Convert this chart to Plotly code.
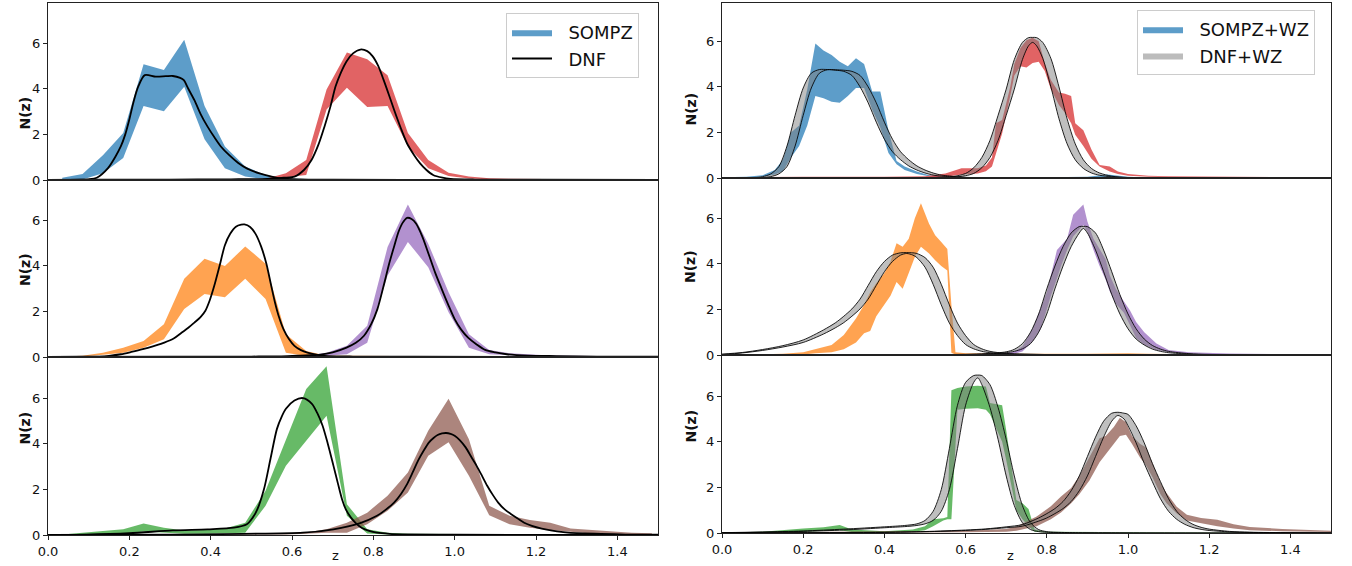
import plotly.graph_objects as go

# ---------------- DATA ----------------
# Left column: SOMPZ bands on coarse bins, DNF single curves
z_sompz = [0.035, 0.085, 0.135, 0.185, 0.235, 0.285, 0.335, 0.385, 0.435, 0.485,
           0.535, 0.585, 0.635, 0.685, 0.735, 0.785, 0.835, 0.885, 0.935, 0.985,
           1.035, 1.085, 1.135, 1.185, 1.235, 1.285, 1.335, 1.385, 1.435, 1.485]

sompz1_hi = [0.10, 0.26, 1.09, 2.06, 5.07, 4.82, 6.15, 3.24, 1.47, 0.59, 0.22, 0.06, 0.04, 0.03, 0.03,
             0.03, 0.03, 0.03, 0.03, 0.02, 0.01, 0, 0, 0, 0, 0, 0, 0, 0, 0]
sompz1_lo = [0.00, 0.02, 0.30, 0.96, 3.24, 3.01, 4.09, 1.79, 0.51, 0.15, 0.03, 0.01, 0.01, 0.01, 0.01,
             0.01, 0.01, 0.01, 0.01, 0, 0, 0, 0, 0, 0, 0, 0, 0, 0, 0]
sompz2_hi = [0.01, 0.01, 0.01, 0.02, 0.02, 0.02, 0.02, 0.02, 0.02, 0.03, 0.05, 0.30, 0.88, 3.97, 5.59,
             5.29, 4.59, 2.06, 0.88, 0.32, 0.15, 0.08, 0.06, 0.05, 0.05, 0.04, 0.04, 0.03, 0.02, 0.01]
sompz2_lo = [0, 0, 0, 0, 0, 0, 0, 0, 0, 0, 0.00, 0.12, 0.22, 3.09, 4.04,
             3.20, 3.24, 1.47, 0.51, 0.18, 0.07, 0.03, 0.02, 0.01, 0.01, 0.01, 0, 0, 0, 0]
sompz3_hi = [0.02, 0.05, 0.19, 0.41, 0.70, 1.44, 3.43, 4.31, 3.99, 4.85, 4.09, 1.00, 0.26, 0.06, 0.05,
             0.05, 0.05, 0.05, 0.05, 0.04, 0.03, 0.02, 0.01, 0, 0, 0, 0, 0, 0, 0]
sompz3_lo = [0.00, 0.02, 0.10, 0.19, 0.41, 0.78, 2.10, 2.76, 2.62, 3.43, 2.54, 0.19, 0.04, 0.01, 0.01,
             0.01, 0.01, 0.01, 0.01, 0.01, 0, 0, 0, 0, 0, 0, 0, 0, 0, 0]
sompz4_hi = [0, 0, 0, 0, 0.01, 0.01, 0.01, 0.01, 0.01, 0.02, 0.02, 0.03, 0.05, 0.19, 0.49,
             1.37, 4.82, 6.69, 4.97, 2.84, 1.00, 0.31, 0.16, 0.10, 0.07, 0.05, 0.04, 0.03, 0.02, 0.02]
sompz4_lo = [0, 0, 0, 0, 0, 0, 0, 0, 0, 0, 0, 0.00, 0.02, 0.05, 0.12,
             0.63, 3.57, 5.04, 3.94, 1.96, 0.41, 0.12, 0.06, 0.03, 0.02, 0.01, 0.01, 0, 0, 0]
sompz5_hi = [0.02, 0.10, 0.18, 0.25, 0.50, 0.32, 0.20, 0.22, 0.28, 0.54, 1.94, 4.20, 6.40, 7.40, 1.35,
             0.25, 0.10, 0.06, 0.05, 0.05, 0.04, 0.04, 0.04, 0.03, 0.03, 0.03, 0.03, 0.03, 0.02, 0.02]
sompz5_lo = [0.00, 0.02, 0.04, 0.05, 0.15, 0.10, 0.05, 0.05, 0.08, 0.10, 1.28, 3.03, 4.13, 5.23, 0.84,
             0.07, 0.02, 0.01, 0.01, 0.01, 0.01, 0.01, 0.01, 0.01, 0.01, 0, 0, 0, 0, 0]
sompz6_hi = [0.02, 0.02, 0.02, 0.03, 0.03, 0.03, 0.03, 0.04, 0.04, 0.04, 0.05, 0.08, 0.12, 0.25, 0.54,
             0.98, 1.72, 2.74, 4.57, 5.97, 4.20, 1.28, 0.84, 0.66, 0.54, 0.28, 0.22, 0.13, 0.10, 0.08]
sompz6_lo = [0.00, 0.00, 0.00, 0.01, 0.01, 0.01, 0.01, 0.01, 0.01, 0.01, 0.01, 0.02, 0.05, 0.10, 0.10,
             0.47, 1.06, 1.86, 3.47, 4.06, 2.60, 0.87, 0.47, 0.32, 0.22, 0.13, 0.07, 0.04, 0.03, 0.02]

dnf1_z = [0.00, 0.08, 0.10, 0.12, 0.147, 0.165, 0.179, 0.19, 0.20, 0.21, 0.222, 0.238, 0.265, 0.29, 0.307,
          0.325, 0.334, 0.345, 0.36, 0.375, 0.392, 0.41, 0.425, 0.445, 0.467, 0.49, 0.52, 0.55, 0.574,
          0.62, 0.70, 1.00, 1.50]
dnf1_n = [0.0, 0.01, 0.03, 0.10, 0.51, 1.0, 1.47, 2.0, 2.65, 3.4, 4.1, 4.6, 4.53, 4.55, 4.56,
          4.48, 4.38, 4.0, 3.5, 2.9, 2.35, 1.85, 1.47, 1.1, 0.76, 0.5, 0.29, 0.15, 0.07,
          0.03, 0.01, 0.0, 0.0]
dnf2_z = [0.00, 0.10, 0.30, 0.45, 0.54, 0.58, 0.606, 0.63, 0.648, 0.665, 0.68, 0.695, 0.707, 0.72, 0.734,
          0.75, 0.768, 0.785, 0.798, 0.812, 0.825, 0.838, 0.851, 0.867, 0.883, 0.90, 0.915, 0.93, 0.947,
          0.97, 0.99, 1.05, 1.20, 1.50]
dnf2_n = [0.0, 0.01, 0.02, 0.03, 0.05, 0.10, 0.15, 0.45, 0.88, 1.55, 2.35, 3.25, 4.1, 4.7, 5.2,
          5.55, 5.72, 5.65, 5.43, 5.0, 4.4, 3.75, 3.08, 2.3, 1.6, 1.1, 0.73, 0.45, 0.22,
          0.10, 0.05, 0.02, 0.01, 0.0]
dnf3_z = [0.00, 0.10, 0.126, 0.15, 0.179, 0.205, 0.233, 0.26, 0.286, 0.31, 0.329, 0.345, 0.36, 0.375,
          0.387, 0.398, 0.409, 0.422, 0.435, 0.448, 0.462, 0.475, 0.483, 0.497, 0.51, 0.524, 0.537,
          0.548, 0.558, 0.568, 0.579, 0.592, 0.606, 0.622, 0.638, 0.66, 0.68, 0.75, 0.90, 1.50]
dnf3_n = [0.0, 0.01, 0.02, 0.05, 0.12, 0.22, 0.34, 0.48, 0.63, 0.82, 1.07, 1.28, 1.51, 1.75,
          2.03, 2.5, 3.13, 4.0, 4.9, 5.4, 5.71, 5.8, 5.81, 5.7, 5.41, 4.85, 4.09,
          3.2, 2.4, 1.75, 1.22, 0.8, 0.49, 0.3, 0.19, 0.10, 0.05, 0.02, 0.01, 0.0]
dnf4_z = [0.00, 0.30, 0.50, 0.574, 0.62, 0.67, 0.70, 0.734, 0.757, 0.777, 0.795, 0.81, 0.825, 0.84,
          0.852, 0.862, 0.872, 0.883, 0.894, 0.905, 0.92, 0.937, 0.952, 0.968, 0.984, 1.00, 1.016,
          1.033, 1.054, 1.075, 1.10, 1.128, 1.18, 1.25, 1.35, 1.50]
dnf4_n = [0.0, 0.01, 0.02, 0.03, 0.06, 0.10, 0.20, 0.41, 0.62, 0.93, 1.45, 2.1, 3.1, 4.16,
          4.9, 5.49, 5.88, 6.1, 6.05, 5.85, 5.3, 4.46, 3.7, 2.99, 2.3, 1.66, 1.2,
          0.85, 0.55, 0.31, 0.2, 0.12, 0.06, 0.04, 0.02, 0.01]
dnf5_z = [0.00, 0.094, 0.20, 0.307, 0.392, 0.457, 0.489, 0.503, 0.515, 0.531, 0.547, 0.563, 0.575,
          0.585, 0.606, 0.627, 0.649, 0.662, 0.675, 0.688, 0.702, 0.713, 0.723, 0.733, 0.745, 0.758,
          0.771, 0.79, 0.809, 0.84, 0.872, 1.00, 1.50]
dnf5_n = [0.0, 0.02, 0.08, 0.20, 0.25, 0.32, 0.47, 0.75, 1.13, 2.0, 3.33, 4.65, 5.2,
          5.53, 5.89, 6.0, 5.75, 5.35, 4.8, 4.0, 3.03, 2.25, 1.57, 1.1, 0.76, 0.5,
          0.32, 0.18, 0.10, 0.05, 0.03, 0.01, 0.0]
dnf6_z = [0.00, 0.307, 0.478, 0.627, 0.702, 0.766, 0.809, 0.83, 0.851, 0.868, 0.883, 0.897, 0.91,
          0.924, 0.937, 0.948, 0.958, 0.969, 0.979, 0.99, 1.00, 1.013, 1.027, 1.04, 1.054, 1.067,
          1.08, 1.093, 1.107, 1.123, 1.139, 1.155, 1.171, 1.19, 1.214, 1.24, 1.267, 1.30, 1.36,
          1.42, 1.50]
dnf6_n = [0.0, 0.02, 0.05, 0.10, 0.25, 0.51, 0.84, 1.1, 1.42, 1.8, 2.23, 2.75, 3.26,
          3.7, 4.06, 4.25, 4.38, 4.45, 4.47, 4.43, 4.35, 4.15, 3.84, 3.45, 3.03, 2.6,
          2.16, 1.78, 1.42, 1.12, 0.91, 0.72, 0.54, 0.4, 0.28, 0.19, 0.13, 0.08, 0.05,
          0.02, 0.01]

# Right column: SOMPZ+WZ bands
wz1_z = [0.00, 0.06, 0.10, 0.13, 0.15, 0.17, 0.19, 0.21, 0.23, 0.25, 0.27, 0.29, 0.31, 0.33, 0.35, 0.37,
         0.39, 0.41, 0.43, 0.45, 0.48, 0.51, 0.55, 0.60, 0.80, 0.90, 0.95, 1.00, 1.05, 1.20, 1.50]
wz1_hi = [0.03, 0.06, 0.12, 0.35, 0.8, 2.0, 2.3, 3.9, 5.9, 5.6, 5.4, 5.1, 4.9, 5.25, 5.0, 3.8,
          3.8, 2.1, 0.75, 0.5, 0.28, 0.12, 0.05, 0.03, 0.03, 0.06, 0.15, 0.06, 0.02, 0.01, 0.0]
wz1_lo = [0.0, 0.02, 0.05, 0.15, 0.3, 0.9, 1.4, 2.3, 3.6, 3.5, 3.35, 3.3, 3.6, 3.95, 3.95, 3.0,
          2.2, 1.1, 0.6, 0.35, 0.18, 0.08, 0.02, 0.01, 0.01, 0.02, 0.05, 0.02, 0.0, 0.0, 0.0]
wz2_z = [0.00, 0.20, 0.40, 0.50, 0.55, 0.59, 0.63, 0.65, 0.665, 0.675, 0.69, 0.71, 0.72, 0.735, 0.75,
         0.765, 0.78, 0.795, 0.81, 0.83, 0.845, 0.86, 0.87, 0.89, 0.91, 0.93, 0.955, 0.975, 1.00,
         1.05, 1.10, 1.20, 1.30, 1.50]
wz2_hi = [0.03, 0.06, 0.05, 0.08, 0.2, 0.43, 0.43, 0.55, 0.9, 2.4, 2.55, 4.0, 5.0, 5.7, 6.05,
          6.15, 6.0, 5.05, 4.3, 3.75, 3.7, 3.6, 2.4, 2.1, 1.25, 0.57, 0.5, 0.28, 0.18,
          0.1, 0.08, 0.06, 0.04, 0.02]
wz2_lo = [0.0, 0.01, 0.0, 0.02, 0.05, 0.15, 0.2, 0.3, 0.5, 1.1, 1.95, 3.6, 4.5, 4.9, 4.85,
          5.05, 5.1, 4.7, 3.9, 3.2, 2.85, 2.4, 1.9, 1.4, 0.85, 0.5, 0.28, 0.18, 0.1,
          0.05, 0.03, 0.02, 0.01, 0.0]
wz3_z = [0.00, 0.15, 0.20, 0.23, 0.27, 0.30, 0.33, 0.35, 0.365, 0.38, 0.40, 0.415, 0.43, 0.445, 0.46,
         0.475, 0.49, 0.51, 0.525, 0.54, 0.555, 0.565, 0.575, 0.60, 0.70, 0.90, 1.00, 1.05, 1.20, 1.50]
wz3_hi = [0.0, 0.05, 0.12, 0.26, 0.44, 0.88, 1.6, 2.2, 2.75, 3.15, 3.6, 4.1, 4.9, 4.75, 5.1,
          6.0, 6.65, 5.75, 5.25, 4.95, 4.65, 2.2, 0.12, 0.08, 0.05, 0.05, 0.08, 0.05, 0.02, 0.0]
wz3_lo = [0.0, 0.0, 0.02, 0.08, 0.12, 0.25, 0.55, 0.95, 1.05, 1.7, 2.2, 2.6, 3.2, 2.9, 3.6,
          4.3, 4.75, 4.45, 4.15, 3.9, 3.7, 0.1, 0.02, 0.02, 0.02, 0.02, 0.03, 0.02, 0.0, 0.0]
wz4_z = [0.00, 0.30, 0.60, 0.70, 0.72, 0.74, 0.765, 0.785, 0.80, 0.81, 0.825, 0.835, 0.85, 0.865, 0.89,
         0.90, 0.915, 0.93, 0.945, 0.955, 0.97, 0.99, 1.005, 1.02, 1.04, 1.07, 1.10, 1.15, 1.25, 1.40, 1.50]
wz4_hi = [0.01, 0.02, 0.03, 0.08, 0.15, 0.38, 1.15, 2.05, 2.75, 3.5, 4.6, 4.8, 5.1, 6.15, 6.6,
          5.85, 5.1, 4.65, 4.2, 3.5, 2.9, 2.35, 1.95, 1.45, 1.0, 0.5, 0.22, 0.12, 0.07, 0.03, 0.02]
wz4_lo = [0.0, 0.0, 0.0, 0.03, 0.06, 0.15, 0.6, 1.15, 2.0, 2.6, 3.35, 3.9, 4.6, 5.2, 5.7,
          5.4, 4.6, 3.9, 3.3, 2.8, 2.25, 1.85, 1.3, 0.75, 0.45, 0.22, 0.12, 0.06, 0.03, 0.01, 0.0]
wz5_z = [0.00, 0.10, 0.20, 0.25, 0.29, 0.32, 0.40, 0.47, 0.50, 0.52, 0.545, 0.555, 0.565, 0.58, 0.60,
         0.63, 0.65, 0.66, 0.69, 0.70, 0.725, 0.74, 0.755, 0.77, 0.80, 1.00, 1.50]
wz5_hi = [0.02, 0.05, 0.2, 0.25, 0.35, 0.15, 0.08, 0.15, 0.3, 0.6, 0.65, 0.7, 6.25, 6.35, 6.42,
          6.45, 6.42, 5.7, 5.6, 4.5, 1.45, 1.3, 1.05, 0.15, 0.05, 0.03, 0.0]
wz5_lo = [0.0, 0.0, 0.05, 0.08, 0.12, 0.04, 0.02, 0.05, 0.12, 0.3, 0.55, 0.6, 0.6, 5.4, 5.45,
          5.47, 5.4, 5.2, 4.0, 3.2, 1.0, 0.6, 0.3, 0.05, 0.02, 0.01, 0.0]
wz6_z = [0.00, 0.30, 0.60, 0.70, 0.725, 0.775, 0.81, 0.835, 0.86, 0.88, 0.905, 0.93, 0.945, 0.965, 0.98,
         0.995, 1.01, 1.03, 1.045, 1.06, 1.08, 1.095, 1.12, 1.145, 1.18, 1.22, 1.26, 1.30, 1.38, 1.50]
wz6_hi = [0.02, 0.05, 0.1, 0.18, 0.28, 0.72, 1.17, 1.6, 1.97, 2.5, 3.35, 4.15, 4.25, 4.65, 5.05,
          4.85, 4.25, 3.9, 3.75, 3.05, 2.2, 1.75, 1.15, 0.8, 0.66, 0.58, 0.38, 0.26, 0.18, 0.1]
wz6_lo = [0.0, 0.01, 0.03, 0.06, 0.1, 0.3, 0.6, 0.9, 1.3, 1.7, 2.3, 3.1, 3.45, 3.9, 4.25,
          4.3, 3.9, 3.3, 2.95, 2.45, 1.7, 1.3, 0.85, 0.55, 0.42, 0.3, 0.2, 0.12, 0.08, 0.04]

# Right column: DNF+WZ bands (upper / lower envelopes)
dwz1_z = [0.00, 0.08, 0.10, 0.12, 0.14, 0.16, 0.18, 0.20, 0.22, 0.24, 0.26, 0.28, 0.30, 0.32, 0.34, 0.36,
          0.38, 0.40, 0.42, 0.44, 0.46, 0.48, 0.50, 0.52, 0.54, 0.56, 0.60, 0.65, 0.80, 1.00, 1.50]
dwz1_hi = [0.0, 0.02, 0.06, 0.18, 0.5, 1.4, 2.75, 3.95, 4.6, 4.76, 4.76, 4.75, 4.73, 4.68, 4.5, 4.0,
           3.3, 2.45, 1.7, 1.15, 0.8, 0.53, 0.35, 0.22, 0.13, 0.09, 0.03, 0.01, 0.01, 0.005, 0.0]
dwz1_lo = [0.0, 0.005, 0.02, 0.06, 0.18, 0.5, 1.4, 2.75, 3.95, 4.6, 4.75, 4.73, 4.68, 4.5, 4.0, 3.3,
           2.45, 1.7, 1.15, 0.8, 0.53, 0.35, 0.22, 0.13, 0.08, 0.06, 0.015, 0.005, 0.005, 0.0, 0.0]
dwz2_z = [0.00, 0.40, 0.50, 0.56, 0.60, 0.62, 0.64, 0.66, 0.68, 0.70, 0.72, 0.74, 0.755, 0.765, 0.775,
          0.79, 0.81, 0.83, 0.85, 0.87, 0.89, 0.91, 0.93, 0.96, 1.00, 1.20, 1.50]
dwz2_hi = [0.0, 0.01, 0.02, 0.04, 0.2, 0.45, 0.9, 1.65, 2.75, 3.9, 5.2, 5.95, 6.16, 6.17, 6.16,
           5.95, 5.25, 4.0, 2.6, 1.5, 0.8, 0.42, 0.22, 0.08, 0.02, 0.005, 0.0]
dwz2_lo = [0.0, 0.005, 0.01, 0.02, 0.1, 0.2, 0.45, 0.9, 1.65, 2.75, 3.9, 5.2, 5.8, 5.95, 5.8,
           5.25, 4.0, 2.6, 1.5, 0.8, 0.42, 0.22, 0.12, 0.05, 0.01, 0.0, 0.0]
dwz3_z = [0.00, 0.05, 0.10, 0.15, 0.20, 0.25, 0.28, 0.30, 0.32, 0.34, 0.36, 0.38, 0.40, 0.42, 0.44, 0.455,
          0.47, 0.48, 0.50, 0.52, 0.54, 0.56, 0.58, 0.60, 0.62, 0.64, 0.66, 0.70, 0.80, 1.00, 1.50]
dwz3_hi = [0.04, 0.11, 0.24, 0.41, 0.66, 1.1, 1.42, 1.7, 2.02, 2.45, 3.05, 3.65, 4.1, 4.38, 4.48, 4.49,
           4.48, 4.45, 4.27, 3.85, 3.1, 2.2, 1.4, 0.85, 0.46, 0.27, 0.16, 0.07, 0.02, 0.005, 0.0]
dwz3_lo = [0.02, 0.09, 0.2, 0.35, 0.55, 0.92, 1.2, 1.42, 1.7, 2.02, 2.45, 3.05, 3.65, 4.1, 4.38, 4.45,
           4.38, 4.27, 3.85, 3.1, 2.2, 1.4, 0.85, 0.46, 0.27, 0.16, 0.1, 0.05, 0.02, 0.005, 0.0]
dwz4_z = [0.00, 0.40, 0.60, 0.65, 0.70, 0.72, 0.74, 0.76, 0.78, 0.80, 0.82, 0.84, 0.86, 0.88, 0.89,
          0.90, 0.92, 0.94, 0.96, 0.98, 1.00, 1.02, 1.04, 1.06, 1.08, 1.10, 1.15, 1.20, 1.30, 1.50]
dwz4_hi = [0.0, 0.01, 0.03, 0.06, 0.14, 0.25, 0.5, 1.0, 1.8, 2.9, 3.9, 4.75, 5.35, 5.63, 5.64,
           5.63, 5.35, 4.6, 3.65, 2.65, 1.8, 1.15, 0.7, 0.42, 0.26, 0.16, 0.06, 0.025, 0.01, 0.0]
dwz4_lo = [0.0, 0.005, 0.02, 0.04, 0.1, 0.16, 0.27, 0.5, 1.0, 1.8, 2.9, 3.9, 4.75, 5.35, 5.55,
           5.35, 4.6, 3.65, 2.65, 1.8, 1.15, 0.7, 0.44, 0.26, 0.16, 0.1, 0.04, 0.015, 0.01, 0.0]
dwz5_z = [0.00, 0.10, 0.20, 0.30, 0.40, 0.45, 0.48, 0.50, 0.52, 0.54, 0.56, 0.58, 0.60, 0.62, 0.63,
          0.64, 0.66, 0.68, 0.70, 0.72, 0.74, 0.76, 0.78, 0.80, 0.85, 1.00, 1.50]
dwz5_hi = [0.015, 0.045, 0.09, 0.17, 0.27, 0.33, 0.4, 0.55, 0.95, 1.9, 3.7, 5.6, 6.6, 6.9, 6.92,
           6.9, 6.5, 5.5, 4.1, 2.5, 1.2, 0.45, 0.15, 0.06, 0.02, 0.005, 0.0]
dwz5_lo = [0.005, 0.035, 0.07, 0.13, 0.23, 0.28, 0.33, 0.4, 0.55, 0.95, 1.9, 3.7, 5.6, 6.6, 6.8,
           6.5, 5.5, 4.1, 2.5, 1.2, 0.45, 0.15, 0.06, 0.03, 0.01, 0.0, 0.0]
dwz6_z = [0.00, 0.40, 0.50, 0.60, 0.65, 0.70, 0.74, 0.78, 0.80, 0.82, 0.84, 0.86, 0.88, 0.90, 0.92,
          0.94, 0.96, 0.975, 0.99, 1.00, 1.02, 1.04, 1.06, 1.08, 1.10, 1.12, 1.14, 1.16, 1.18, 1.20,
          1.25, 1.30, 1.40, 1.50]
dwz6_hi = [0.0, 0.035, 0.065, 0.13, 0.18, 0.27, 0.37, 0.66, 0.85, 1.07, 1.38, 1.85, 2.5, 3.35, 4.2,
           4.9, 5.25, 5.29, 5.25, 5.2, 4.7, 3.95, 3.05, 2.25, 1.5, 0.95, 0.6, 0.38, 0.25, 0.17,
           0.07, 0.035, 0.012, 0.0]
dwz6_lo = [0.0, 0.025, 0.055, 0.11, 0.16, 0.23, 0.3, 0.52, 0.66, 0.85, 1.07, 1.38, 1.85, 2.5, 3.35,
           4.2, 4.9, 5.15, 5.0, 4.7, 3.95, 3.05, 2.25, 1.5, 0.95, 0.6, 0.38, 0.24, 0.16, 0.11,
           0.05, 0.025, 0.008, 0.0]

x_ticks = [0.0, 0.2, 0.4, 0.6, 0.8, 1.0, 1.2, 1.4]
y_ticks = [0, 2, 4, 6]
legend_left = ["SOMPZ", "DNF"]
legend_right = ["SOMPZ+WZ", "DNF+WZ"]

# ---------------- STYLE ----------------
C = {
    "blue": "rgba(31,119,180,0.72)", "orange": "rgba(255,127,14,0.72)",
    "green": "rgba(44,160,44,0.72)", "red": "rgba(214,39,40,0.72)",
    "purple": "rgba(148,103,189,0.72)", "brown": "rgba(140,86,75,0.72)",
}
GREY = "rgba(128,128,128,0.5)"
FONT = "DejaVu Sans"
PAD = "\u00a0\u00a0"  # small gap between legend handle and label

fig = go.Figure()


def band(x, lo, hi, color, ax, shape="linear"):
    xa, ya = ("x" if ax == 1 else f"x{ax}"), ("y" if ax == 1 else f"y{ax}")
    fig.add_trace(go.Scatter(x=x, y=lo, mode="lines", line=dict(width=0, shape=shape, smoothing=0.8),
                             xaxis=xa, yaxis=ya, showlegend=False, hoverinfo="skip"))
    fig.add_trace(go.Scatter(x=x, y=hi, mode="lines", fill="tonexty", fillcolor=color,
                             line=dict(width=0, shape=shape, smoothing=0.8),
                             xaxis=xa, yaxis=ya, showlegend=False, hoverinfo="skip"))


def line(x, y, ax, width=1.8, color="black"):
    xa, ya = ("x" if ax == 1 else f"x{ax}"), ("y" if ax == 1 else f"y{ax}")
    fig.add_trace(go.Scatter(x=x, y=y, mode="lines",
                             line=dict(width=width, color=color, shape="spline", smoothing=0.8),
                             xaxis=xa, yaxis=ya, showlegend=False, hoverinfo="skip"))


# Left column
band(z_sompz, sompz1_lo, sompz1_hi, C["blue"], 1)
band(z_sompz, sompz2_lo, sompz2_hi, C["red"], 1)
line(dnf1_z, dnf1_n, 1)
line(dnf2_z, dnf2_n, 1)
band(z_sompz, sompz3_lo, sompz3_hi, C["orange"], 2)
band(z_sompz, sompz4_lo, sompz4_hi, C["purple"], 2)
line(dnf3_z, dnf3_n, 2)
line(dnf4_z, dnf4_n, 2)
band(z_sompz, sompz5_lo, sompz5_hi, C["green"], 3)
band(z_sompz, sompz6_lo, sompz6_hi, C["brown"], 3)
line(dnf5_z, dnf5_n, 3)
line(dnf6_z, dnf6_n, 3)

# Right column
right = [
    (4, [(wz1_z, wz1_lo, wz1_hi, C["blue"]), (wz2_z, wz2_lo, wz2_hi, C["red"])],
     [(dwz1_z, dwz1_lo, dwz1_hi), (dwz2_z, dwz2_lo, dwz2_hi)]),
    (5, [(wz3_z, wz3_lo, wz3_hi, C["orange"]), (wz4_z, wz4_lo, wz4_hi, C["purple"])],
     [(dwz3_z, dwz3_lo, dwz3_hi), (dwz4_z, dwz4_lo, dwz4_hi)]),
    (6, [(wz5_z, wz5_lo, wz5_hi, C["green"]), (wz6_z, wz6_lo, wz6_hi, C["brown"])],
     [(dwz5_z, dwz5_lo, dwz5_hi), (dwz6_z, dwz6_lo, dwz6_hi)]),
]
for ax, sbands, dbands in right:
    for (x, lo, hi, col) in sbands:
        band(x, lo, hi, col, ax)
    for (x, lo, hi) in dbands:
        band(x, lo, hi, GREY, ax, shape="spline")
        line(x, lo, ax, width=1.0, color="rgba(0,0,0,0.85)")
        line(x, hi, ax, width=1.0, color="rgba(0,0,0,0.85)")

# Legend-only traces
fig.add_trace(go.Scatter(x=[None], y=[None], mode="lines", fill="toself", fillcolor=C["blue"],
                         line=dict(width=0), name=PAD + legend_left[0], legend="legend"))
fig.add_trace(go.Scatter(x=[None], y=[None], mode="lines", line=dict(color="black", width=2),
                         name=PAD + legend_left[1], legend="legend"))
fig.add_trace(go.Scatter(x=[None], y=[None], mode="lines", fill="toself", fillcolor=C["blue"],
                         line=dict(width=0), name=PAD + legend_right[0], legend="legend2",
                         xaxis="x4", yaxis="y4"))
fig.add_trace(go.Scatter(x=[None], y=[None], mode="lines", fill="toself", fillcolor="rgba(160,160,160,0.7)",
                         line=dict(width=0), name=PAD + legend_right[1], legend="legend2",
                         xaxis="x4", yaxis="y4"))

W, H = 1352, 566
xl = [48 / W, 658 / W]
xr = [722 / W, 1331 / W]
ydom = {
    1: [1 - 180 / H, 1 - 3 / H], 2: [1 - 357 / H, 1 - 180 / H], 3: [1 - 535 / H, 1 - 357 / H],
    4: [1 - 178 / H, 1 - 3 / H], 5: [1 - 355 / H, 1 - 178 / H], 6: [1 - 533 / H, 1 - 355 / H],
}
yr = {1: 7.76, 2: 7.76, 3: 7.8, 4: 7.68, 5: 7.76, 6: 7.8}

legend_style = dict(xanchor="left", yanchor="top", traceorder="normal",
                    bgcolor="rgba(255,255,255,0.85)", bordercolor="#cccccc", borderwidth=1,
                    font=dict(family=FONT, size=18, color="#111"), itemwidth=40, tracegroupgap=2)
layout = dict(
    width=W, height=H, margin=dict(l=0, r=0, t=0, b=0, pad=0, autoexpand=False),
    paper_bgcolor="white", plot_bgcolor="white",
    font=dict(family=FONT, size=13, color="#111"),
    legend=dict(x=506 / W, y=1 - 13 / H, **legend_style),
    legend2=dict(x=1137 / W, y=1 - 10 / H, **legend_style),
)
for i in range(1, 7):
    xk = "xaxis" if i == 1 else f"xaxis{i}"
    yk = "yaxis" if i == 1 else f"yaxis{i}"
    bottom = i in (3, 6)
    layout[xk] = dict(
        domain=xl if i <= 3 else xr, range=[0, 1.5], anchor="y" if i == 1 else f"y{i}",
        automargin=False,
        showline=True, mirror=True, linecolor="#222", linewidth=1, showgrid=False, zeroline=False,
        tickvals=x_ticks, ticktext=[f"{v:.1f}" for v in x_ticks],
        ticks="outside" if bottom else "", ticklen=4, tickcolor="#222",
        showticklabels=bottom, tickfont=dict(family=FONT, size=13, color="#111"),
    )
    layout[yk] = dict(
        domain=ydom[i], range=[0, yr[i]], anchor="x" if i == 1 else f"x{i}",
        automargin=False,
        showline=True, mirror=True, linecolor="#222", linewidth=1, showgrid=False, zeroline=False,
        tickvals=y_ticks, ticks="outside", ticklen=4, tickcolor="#222",
        tickfont=dict(family=FONT, size=13, color="#111"),
    )

ann = []
for xp, centers in ((15, (95, 270, 447)), (690, (91, 267, 445))):
    for cy in centers:
        ann.append(dict(x=xp / W, y=1 - cy / H, xref="paper", yref="paper", text="<b>N(z)</b>",
                        textangle=-90, showarrow=False, font=dict(family=FONT, size=14, color="#111")))
for xp in (335, 1010):
    ann.append(dict(x=xp / W, y=1 - 555 / H, xref="paper", yref="paper", text="z",
                    xanchor="center", yanchor="middle",
                    showarrow=False, font=dict(family=FONT, size=13, color="#111")))
layout["annotations"] = ann

fig.update_layout(**layout)
fig.write_html("out.html", config={"displayModeBar": False},
               post_script="document.body.style.margin='0';document.body.style.overflow='hidden';")
